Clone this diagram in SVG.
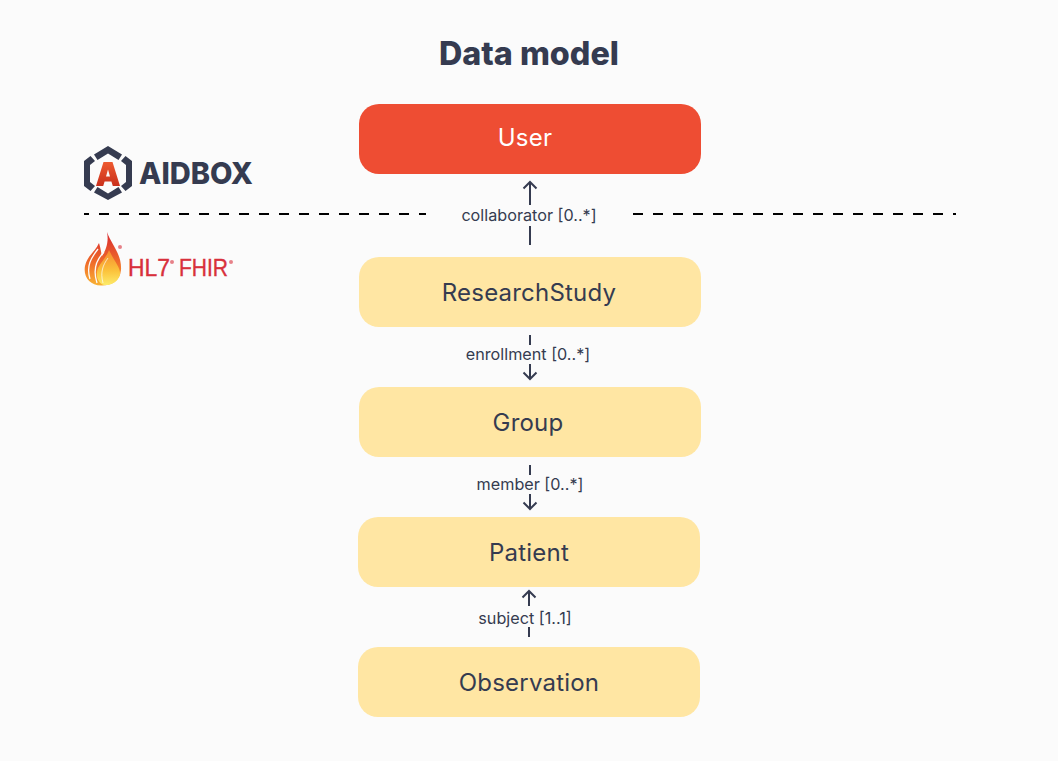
<svg xmlns="http://www.w3.org/2000/svg" width="1058" height="761" viewBox="0 0 1058 761">
<defs>
<linearGradient id="fl" x1="0" y1="0" x2="0" y2="1"><stop offset="0" stop-color="#d8262f"/><stop offset=".6" stop-color="#f0702a"/><stop offset="1" stop-color="#f9b233"/></linearGradient>
<linearGradient id="fi" x1="0" y1="0" x2="0" y2="1"><stop offset="0" stop-color="#f5882e"/><stop offset=".6" stop-color="#fbc33c"/><stop offset="1" stop-color="#fdeb6a"/></linearGradient>
<linearGradient id="lg" x1="0" y1="0" x2="0" y2="1"><stop offset="0" stop-color="#ee5a30"/><stop offset="1" stop-color="#c9301c"/></linearGradient>
</defs>
<style>
text{font-family:Inter,"Liberation Sans",sans-serif;fill:#353B50;text-anchor:middle}
.n{font-size:24px;letter-spacing:.2px}
.l{font-size:16.200px}
.y{fill:#FFE6A3}
.c{fill:none;stroke:#353B50;stroke-width:2}
.d{fill:none;stroke:#000;stroke-width:2;stroke-dasharray:10 10}
.h{fill:#D8303C;stroke:#D8303C;stroke-width:.4;font-family:"Liberation Sans",sans-serif;font-size:24px}
</style>
<rect width="1058" height="761" fill="#FBFBFB"/>
<text x="529" y="65" font-size="32.300" font-weight="800">Data model</text>
<g id="connectors">
<path class="d" stroke-dashoffset="5" d="M84 214H426"/>
<path class="d" d="M633 214H956"/>
<path class="c" d="M530 245V226M530 205V182M523.500 188.500L530 182L536.500 188.500"/>
<path class="c" d="M530 335V345M530 364V379M523.500 372.500L530 379L536.500 372.500"/>
<path class="c" d="M530 465V475M530 494V509M523.500 502.500L530 509L536.500 502.500"/>
<path class="c" d="M529 637V627M529 606V591M522.500 597.500L529 591L535.500 597.500"/>
<text class="l" x="529" y="221">collaborator [0..*]</text>
<text class="l" x="528" y="360">enrollment [0..*]</text>
<text class="l" x="530" y="490">member [0..*]</text>
<text class="l" x="525" y="624">subject [1..1]</text>
</g>
<g id="user"><rect x="359" y="104" width="342" height="70" rx="20" fill="#EE4D33"/><text class="n" x="525" y="146" style="fill:#fff">User</text></g>
<g id="researchstudy"><rect class="y" x="359" y="257" width="342" height="70" rx="20"/><text class="n" x="529" y="301">ResearchStudy</text></g>
<g id="group"><rect class="y" x="359" y="387" width="342" height="70" rx="20"/><text class="n" x="528" y="431">Group</text></g>
<g id="patient"><rect class="y" x="358" y="517" width="342" height="70" rx="20"/><text class="n" x="529" y="561">Patient</text></g>
<g id="observation"><rect class="y" x="358" y="647" width="342" height="70" rx="20"/><text class="n" x="529" y="691">Observation</text></g>
<g id="aidbox-logo">
<path fill="#353B50" d="M108 146L122 154.500L118.500 160L108 153.500L97.500 160L94 154.500ZM90.500 156L95 161L90 165V182L95 186L90.500 191L84 186V161ZM125.500 156L132 161V186L125.500 191L121 186L126 182V165L121 161ZM97.500 187L108 193.500L118.500 187L122 192.500L108 200L94 192.500Z"/>
<path fill="url(#lg)" d="M103.500 162H112.500L120 186H112.800L111.400 181.500H104.600L103.200 186H96ZM106 176.500H110L108 169.500Z"/>
<text x="196" y="184" font-size="30" font-weight="800" textLength="114" lengthAdjust="spacingAndGlyphs">AIDBOX</text>
</g>
<g id="hl7-fhir-logo">
<path fill="url(#fl)" d="M107 232C111 244 122 254 121 270C120 281 111 286 101 285.500C90 285 83 277 85 266C87 256 95 252 99 243C101 249 101 253 102 256C106 250 109 242 107 232Z"/>
<path fill="none" stroke="#FBFBFB" stroke-width="1.300" d="M98 249C91 258 86 266 90 279M104 252C97 259 92 268 97 283"/>
<path fill="url(#fi)" d="M109 250C114 261 121 268 120 275C118 282 111 285.500 104 285C98 283 95 276 98 268C101 262 106 258 109 250Z"/>
<path fill="none" stroke="#FBFBFB" stroke-width=".900" opacity=".8" d="M108 258C103 265 100 272 103 283"/>
<text class="h" x="149" y="276" textLength="42" lengthAdjust="spacingAndGlyphs">HL7</text>
<text class="h" x="203.500" y="276" textLength="49" lengthAdjust="spacingAndGlyphs">FHIR</text>
<circle cx="120" cy="247" r="2" fill="#D8303C" opacity=".6"/>
<circle cx="172" cy="262" r="2" fill="#D8303C" opacity=".6"/>
<circle cx="231" cy="262" r="2" fill="#D8303C" opacity=".6"/>
</g>
</svg>
